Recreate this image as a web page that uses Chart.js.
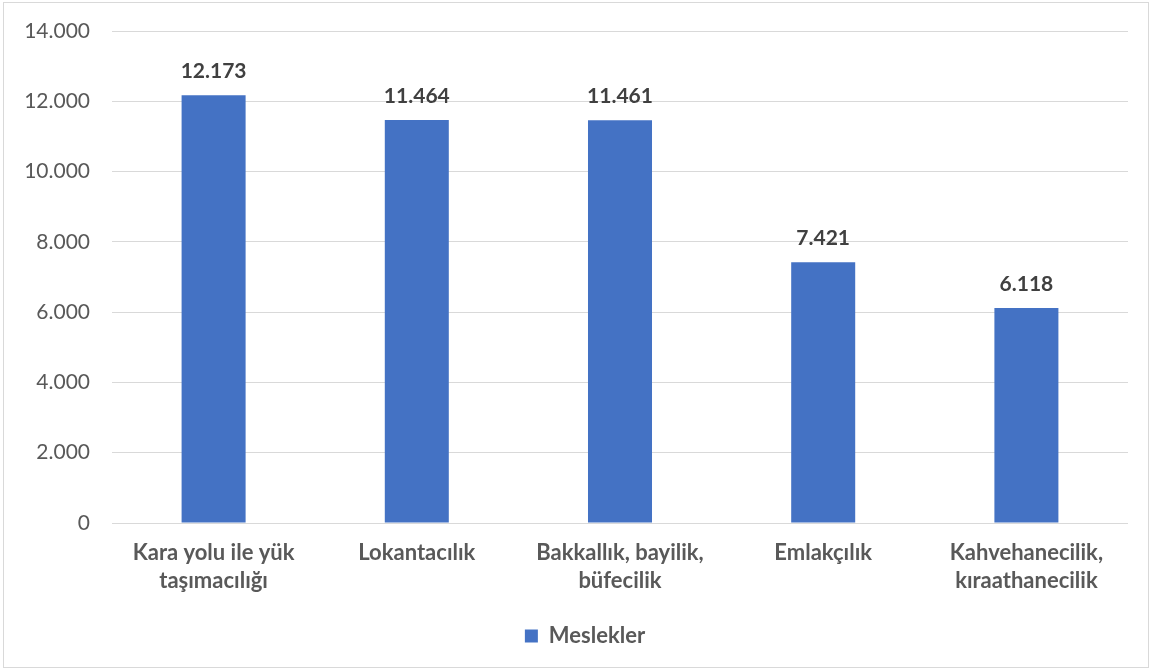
<!DOCTYPE html>
<html>
<head>
<meta charset="utf-8">
<script src="https://cdn.jsdelivr.net/npm/chart.js@4"></script>
<style>
  html, body { margin: 0; padding: 0; background: #fff; }
  #wrap {
    position: absolute; left: 3px; top: 2px;
    width: 1144px; height: 664px;
    border: 1px solid #d9d9d9;
  }
</style>
</head>
<body>
<div id="wrap"><canvas id="chart"></canvas></div>
<script>
// Meslek grupları ve değerler
const categories = [
  ['Kara yolu ile yük', 'taşımacılığı'],
  'Lokantacılık',
  ['Bakkallık, bayilik,', 'büfecilik'],
  'Emlakçılık',
  ['Kahvehanecilik,', 'kıraathanecilik']
];
const values     = [12173, 11464, 11461, 7421, 6118];
const seriesName = 'Meslekler';
const yMax  = 14000;
const yStep = 2000;

const FONT = 'Lato, "Open Sans", sans-serif';

/** 12173 -> "12.173" */
function trNum(v) {
  return String(Math.round(v)).replace(/\B(?=(\d{3})+(?!\d))/g, '.');
}

/** Değer etiketlerini çubukların üstüne yazar */
const valueLabels = {
  id: 'valueLabels',
  afterDatasetsDraw(chart) {
    const ctx = chart.ctx;
    const meta = chart.getDatasetMeta(0);
    ctx.save();
    ctx.font = 'bold 21px ' + FONT;
    ctx.fillStyle = '#404040';
    ctx.textAlign = 'center';
    ctx.textBaseline = 'alphabetic';
    meta.data.forEach((bar, i) => {
      ctx.fillText(trNum(values[i]), bar.x, bar.y - 17);
    });
    ctx.restore();
  }
};

/** Lejantı biraz sağa kaydırır (Excel'deki gibi) */
const legendShift = {
  id: 'legendShift',
  afterLayout(chart) {
    if (!chart.legend) return;
    chart.legend.left  += 19;
    chart.legend.right += 19;
  }
};

new Chart(document.getElementById('chart'), {
  type: 'bar',
  data: {
    labels: categories,
    datasets: [{
      label: seriesName,
      data: values,
      backgroundColor: '#4472C4',
      borderWidth: 0,
      categoryPercentage: 1,
      barPercentage: 0.315
    }]
  },
  options: {
    responsive: true,
    maintainAspectRatio: false,
    animation: false,
    layout: { padding: { top: 28, right: 20, bottom: 10, left: 0 } },
    plugins: {
      legend: {
        position: 'bottom',
        labels: {
          color: '#595959',
          font: { family: FONT, size: 22, weight: 'bold' },
          boxWidth: 13, boxHeight: 13, padding: 8
        }
      },
      tooltip: { enabled: false }
    },
    scales: {
      x: {
        grid: { display: false },
        border: { display: false },
        ticks: {
          color: '#595959',
          font: { family: FONT, size: 22, weight: 'bold', lineHeight: 1.27 },
          padding: 8,
          maxRotation: 0,
          autoSkip: false
        },
        afterFit: s => { s.height = 94; }
      },
      y: {
        min: 0, max: yMax,
        grid: { color: '#d9d9d9', lineWidth: 1, drawTicks: false },
        border: { display: false },
        ticks: {
          stepSize: yStep,
          color: '#595959',
          font: { family: FONT, size: 21 },
          padding: 22,
          callback: v => trNum(v)
        },
        afterFit: s => { s.width = 108; s.paddingTop = 0; s.paddingBottom = 0; }
      }
    }
  },
  plugins: [valueLabels, legendShift]
});
</script>
</body>
</html>
